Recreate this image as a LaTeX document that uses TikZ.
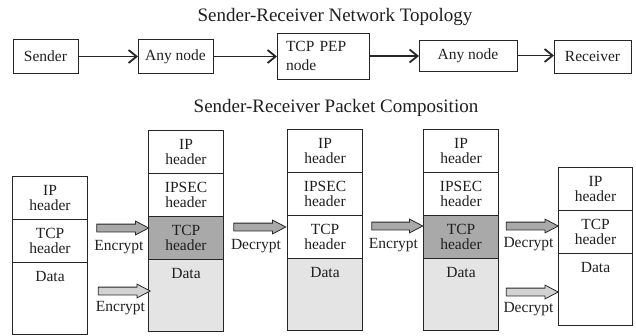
\documentclass[tikz,border=0pt]{standalone}
\usepackage{fontspec}
\setmainfont{Liberation Serif}
\usetikzlibrary{positioning,shapes.arrows,arrows.meta}
\definecolor{hdrgray}{HTML}{A9A9A9}
\definecolor{datagray}{HTML}{E4E4E4}
\definecolor{lowgray}{HTML}{D2D2D2}
\definecolor{linegray}{HTML}{262626}

\begin{document}
\begin{tikzpicture}[x=1pt,y=-1pt,
  every node/.style={font=\fontsize{15.5}{15}\selectfont, text=black!88},
  title/.style={font=\fontsize{19}{22}\selectfont},
  box/.style={draw=linegray, line width=1pt, minimum height=34pt, inner sep=0pt, outer sep=0pt},
  link/.style={draw=linegray, line width=1.3pt, -{Straight Barb[length=8pt,width=13pt,line width=1.8pt]}},
  cell/.style={draw=linegray, line width=1pt, minimum width=74.5pt, minimum height=43pt,
    inner sep=0pt, outer sep=0pt, align=center},
  datacell/.style={cell, minimum height=72pt, label={[anchor=north,inner sep=0pt,yshift=-9pt]north:Data}},
  fatarrow/.style={single arrow, draw=linegray, line width=0.8pt, minimum height=52pt, minimum width=13pt,
    inner xsep=0pt, inner ysep=3.5pt, single arrow head extend=3pt, single arrow tip angle=55,
    single arrow head indent=0pt},
  tag/.style={inner sep=0pt, anchor=north}]
  \useasboundingbox (0,0) rectangle (636,335);

  \node[title] (toptitle) at (335,17) {Sender-Receiver Network Topology};
  \node[box, minimum width=65pt] (snd) at (45.5,56.5) {Sender};
  \node[box, minimum width=75pt] (any1) at (175.5,56.5) {Any node};
  \node[box, minimum height=46pt, text width=74pt, inner xsep=9pt, align=left,
    font=\fontsize{15.5}{18.5}\selectfont] (pep) at (323,56) {TCP PEP\\node};
  \node[box, minimum width=98pt, minimum height=31pt] (any2) at (468,55.5) {Any node};
  \node[box, minimum width=77pt, minimum height=33pt] (rcv) at (592.5,56.5) {Receiver};
  \draw[link] (snd.east) -- (any1.west);
  \draw[link] (any1.east) -- (any1.east -| pep.west);
  \draw[link] (pep.east) -- (pep.east -| any2.west);
  \draw[link] (any2.east) -- (any2.east -| rcv.west);

  \node[title] (bottitle) at (336,108) {Sender-Receiver Packet Composition};

  \node[cell] (p1ip) at (50,197.5) {IP\\header};
  \node[cell, below=0pt of p1ip] (p1tcp) {TCP\\header};
  \node[datacell, below=0pt of p1tcp] (p1data) {};

  \node[cell] (p2ip) at (186,151.5) {IP\\header};
  \node[cell, below=0pt of p2ip] (p2sec) {IPSEC\\header};
  \node[cell, fill=hdrgray, below=0pt of p2sec] (p2tcp) {TCP\\header};
  \node[datacell, fill=datagray, below=0pt of p2tcp] (p2data) {};

  \node[cell] (p3ip) at (325,150.5) {IP\\header};
  \node[cell, below=0pt of p3ip] (p3sec) {IPSEC\\header};
  \node[cell, below=0pt of p3sec] (p3tcp) {TCP\\header};
  \node[datacell, fill=datagray, below=0pt of p3tcp] (p3data) {};

  \node[cell] (p4ip) at (461,150.5) {IP\\header};
  \node[cell, below=0pt of p4ip] (p4sec) {IPSEC\\header};
  \node[cell, fill=hdrgray, below=0pt of p4sec] (p4tcp) {TCP\\header};
  \node[datacell, fill=datagray, below=0pt of p4tcp] (p4data) {};

  \node[cell] (p5ip) at (595.5,188.5) {IP\\header};
  \node[cell, below=0pt of p5ip] (p5tcp) {TCP\\header};
  \node[datacell, below=0pt of p5tcp] (p5data) {};

  \node[fatarrow, fill=hdrgray] (enc1) at (119,228) {};
  \node[tag] (enc1txt) at ([yshift=-12pt]enc1.center) {Encrypt};
  \node[fatarrow, fill=lowgray] (enc2) at (120.5,291) {};
  \node[tag] (enc2txt) at ([yshift=-10pt]enc2.center) {Encrypt};
  \node[fatarrow, fill=hdrgray] (dec1) at (256,227) {};
  \node[tag] (dec1txt) at ([yshift=-12pt]dec1.center) {Decrypt};
  \node[fatarrow, fill=hdrgray, minimum height=51pt] (enc3) at (393.5,226) {};
  \node[tag] (enc3txt) at ([yshift=-12pt]enc3.center) {Encrypt};
  \node[fatarrow, fill=hdrgray] (dec2) at (528.5,226) {};
  \node[tag] (dec2txt) at ([yshift=-11pt]dec2.center) {Decrypt};
  \node[fatarrow, fill=lowgray] (dec3) at (528.5,292) {};
  \node[tag] (dec3txt) at ([yshift=-10pt]dec3.center) {Decrypt};
\end{tikzpicture}
\end{document}
